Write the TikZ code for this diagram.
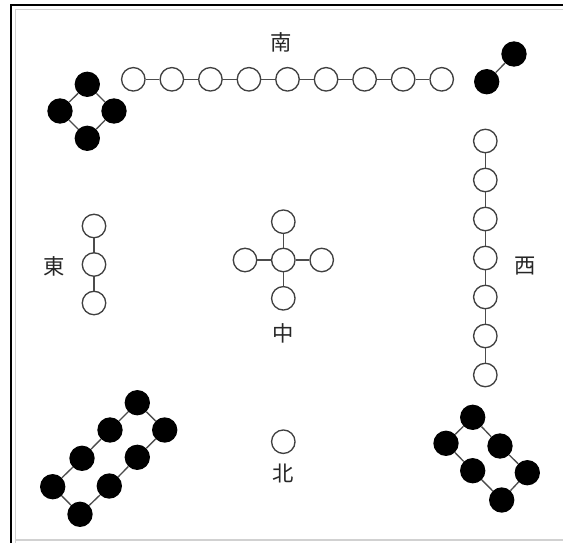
\documentclass[tikz,border=0pt]{standalone}
\usepackage{fontspec}
\newfontfamily\cjk{Noto Sans CJK JP}
\begin{document}
\begin{tikzpicture}[x=0.75pt,y=-0.75pt,
  yang/.style={circle,draw=black!75,fill=white,line width=1pt,minimum size=17.6pt,inner sep=0pt},
  yin/.style={circle,fill=black,minimum size=19pt,inner sep=0pt},
  link/.style={draw=black!70,line width=1pt},
  lbl/.style={font=\cjk\fontsize{16}{16}\selectfont,text=black!85,inner sep=0pt}]
\useasboundingbox (0,0) rectangle (563,542);
\clip (0,0) rectangle (563,542);
\fill[white] (0,0) rectangle (563,542);
\draw[black!18,line width=1.2pt] (15.5,540) -- (570,540);
\draw[black!18,line width=1.2pt] (15.5,545) -- (15.5,9.5) -- (570,9.5);
\draw[black,line width=1.6pt] (11,545) -- (11,5) -- (570,5);

% labels
\node[lbl] (tS) at (281,42) {南};
\node[lbl] (tE) at (54,266) {東};
\node[lbl] (tW) at (525,266) {西};
\node[lbl] (tC) at (283,333) {中};
\node[lbl] (tN) at (283,473) {北};

% South: 9 white
\foreach \i in {1,...,9} {
  \node[yang] (s\i) at ({133.3+38.55*(\i-1)},79.3) {};
}
\foreach \i [evaluate=\i as \j using int(\i+1)] in {1,...,8} {
  \draw[link] (s\i) -- (s\j);
}

% top-left: 4 black (diamond)
\node[yin] (a1) at (87.3,84.3) {};
\node[yin] (a2) at (114,111) {};
\node[yin] (a3) at (87.3,138.3) {};
\node[yin] (a4) at (60,111) {};
\draw[link] (a1) -- (a2) -- (a3) -- (a4) -- (a1);

% top-right: 2 black
\node[yin] (b1) at (514,54) {};
\node[yin] (b2) at (486.7,81.7) {};
\draw[link] (b1) -- (b2);

% West: 7 white
\foreach \i in {1,...,7} {
  \node[yang] (w\i) at (485.3,{141+39*(\i-1)}) {};
}
\foreach \i [evaluate=\i as \j using int(\i+1)] in {1,...,6} {
  \draw[link] (w\i) -- (w\j);
}

% East: 3 white
\node[yang] (e1) at (94,226) {};
\node[yang] (e2) at (94,264.5) {};
\node[yang] (e3) at (94,303) {};
\draw[link] (e1) -- (e2) -- (e3);

% Centre: 5 white
\node[yang] (c0) at (283.3,260) {};
\node[yang] (c1) at (283.3,221.7) {};
\node[yang] (c2) at (321.7,260) {};
\node[yang] (c3) at (283.3,298.3) {};
\node[yang] (c4) at (245,260) {};
\foreach \k in {1,...,4} { \draw[link] (c0) -- (c\k); }

% North: 1 white
\node[yang] (n1) at (283.3,441.7) {};

% bottom-left: 8 black ring
\node[yin] (d1) at (52.7,486.7) {};
\node[yin] (d2) at (82,458.3) {};
\node[yin] (d3) at (110,430) {};
\node[yin] (d4) at (137.3,402.7) {};
\node[yin] (d5) at (164.7,430) {};
\node[yin] (d6) at (137.3,457.3) {};
\node[yin] (d7) at (109.3,486) {};
\node[yin] (d8) at (80,514.3) {};
\draw[link] (d1) -- (d2) -- (d3) -- (d4) -- (d5) -- (d6) -- (d7) -- (d8) -- (d1);

% bottom-right: 6 black ring
\node[yin] (f1) at (472.7,417.3) {};
\node[yin] (f2) at (500,446) {};
\node[yin] (f3) at (527.3,472.7) {};
\node[yin] (f4) at (501.7,500) {};
\node[yin] (f5) at (472.7,470.7) {};
\node[yin] (f6) at (446,443.3) {};
\draw[link] (f1) -- (f2) -- (f3) -- (f4) -- (f5) -- (f6) -- (f1);
\end{tikzpicture}
\end{document}
